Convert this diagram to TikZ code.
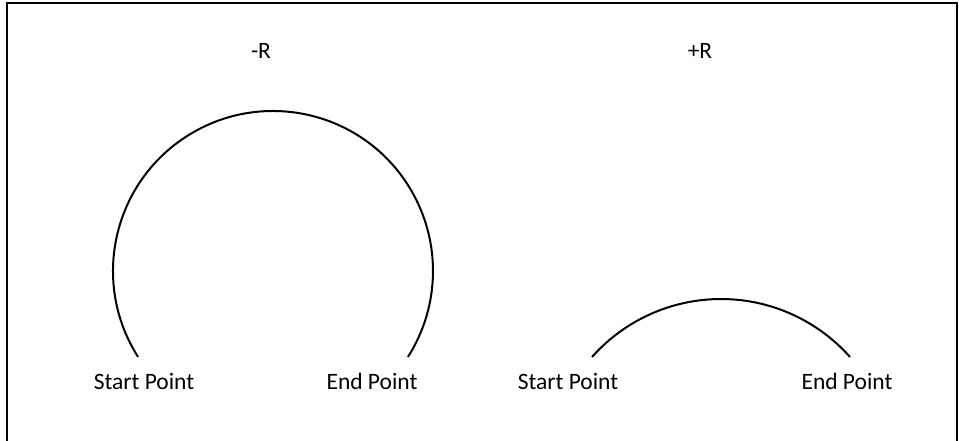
\documentclass[tikz,border=0pt]{standalone}
\usepackage{fontspec}
\setmainfont{Carlito}
\begin{document}
\begin{tikzpicture}[x=1pt, y=-1pt,
        curve/.style={black, line width=2pt},
        lbl/.style={anchor=base, inner sep=0pt, font=\fontsize{23.5}{28}\selectfont}]
        \useasboundingbox (0,0) rectangle (959,441);

        % frame, open at the bottom
        \draw[black, line width=2pt] (7,441) -- (7,3) -- (957,3) -- (957,441);

        \node[lbl] (minusR) at (261,59) {-R};
        \node[lbl] (plusR) at (700,59) {+R};

        % -R: the long way round
        \coordinate (lc) at (273,271);
        \draw[curve] ([shift={(147.5:160)}]lc) arc[start angle=147.5, end angle=392.5, radius=160];
        \node[lbl] (lstart) at (144,389) {Start Point};
        \node[lbl] (lend) at (372,389) {End Point};

        % +R: the short way round
        \coordinate (rc) at (721,471.5);
        \draw[curve] ([shift={(221.6:172.5)}]rc) arc[start angle=221.6, end angle=318.4, radius=172.5];
        \node[lbl] (rstart) at (568,389) {Start Point};
        \node[lbl] (rend) at (847,389) {End Point};
    \end{tikzpicture}
\end{document}
